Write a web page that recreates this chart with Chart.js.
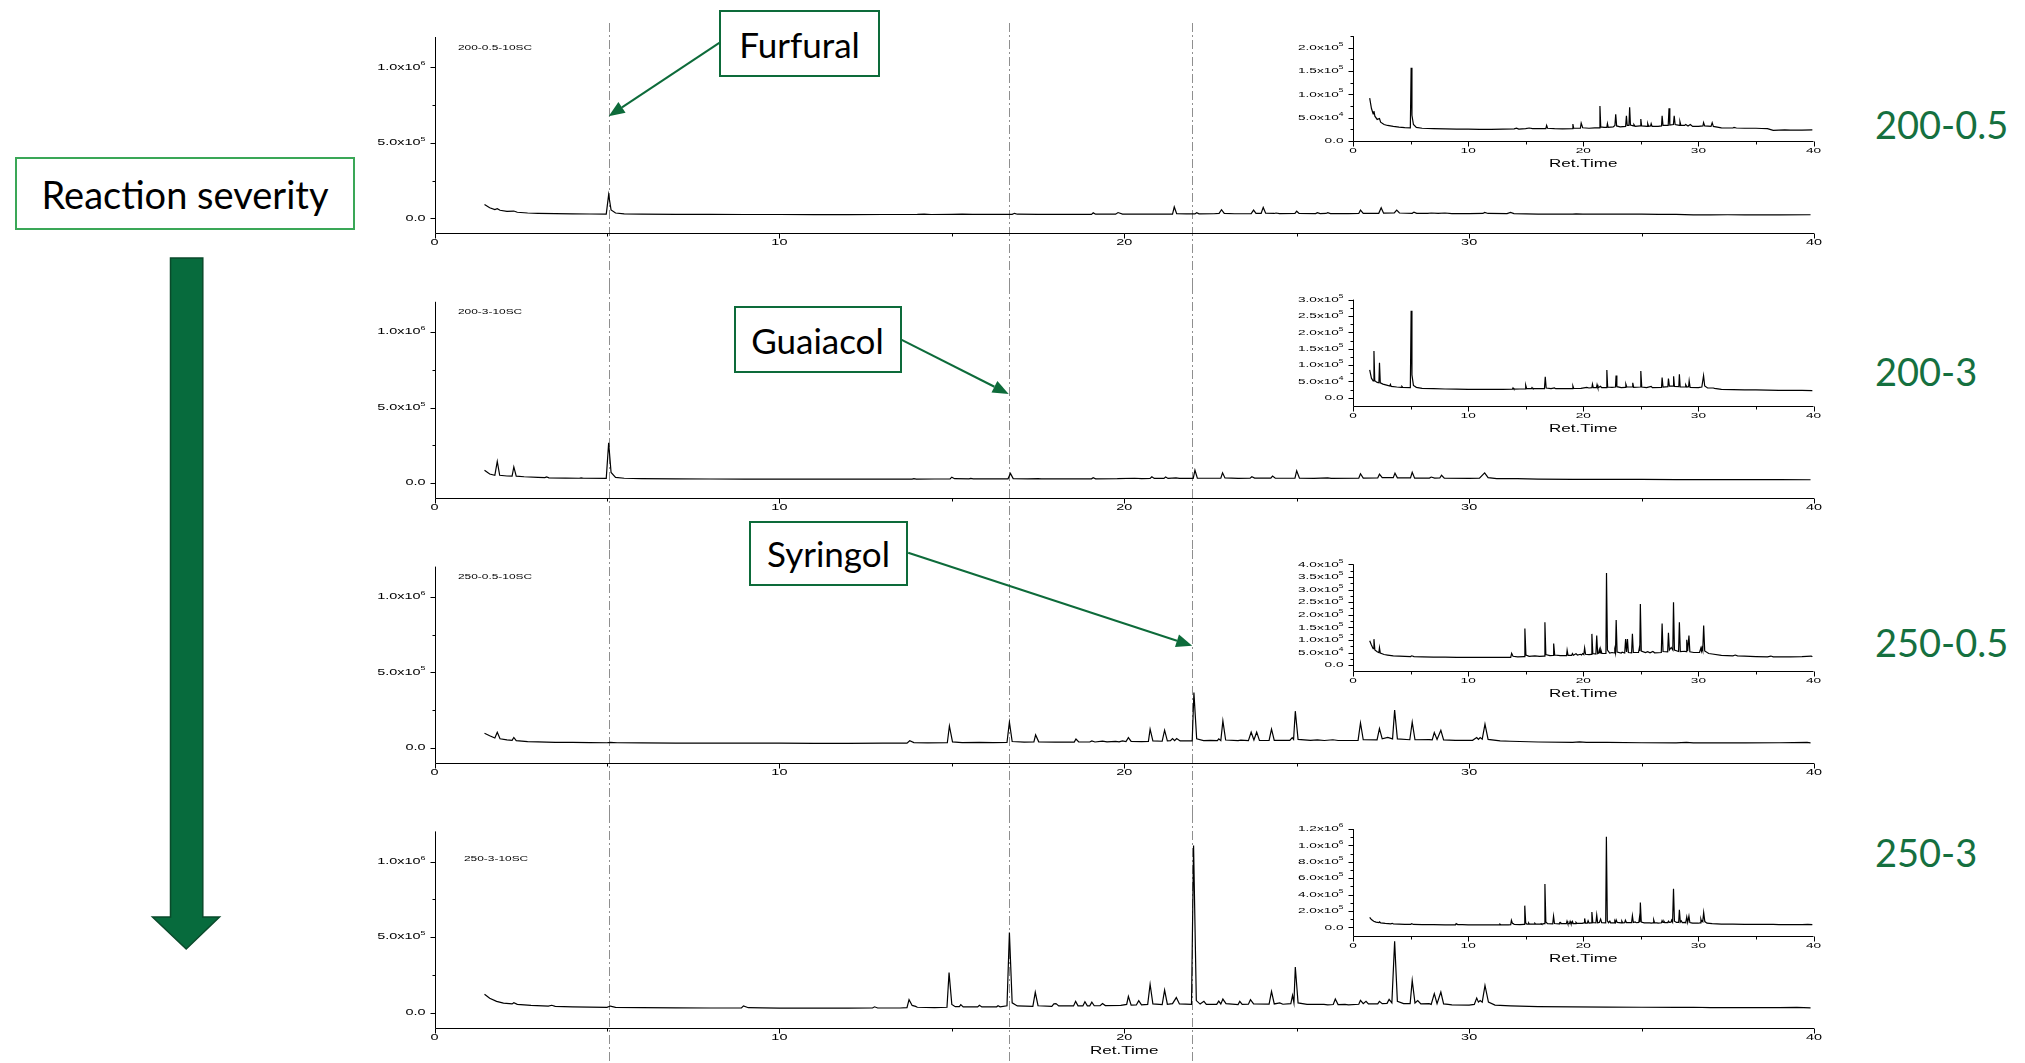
<!DOCTYPE html>
<html>
<head>
<meta charset="utf-8">
<script src="https://cdn.jsdelivr.net/npm/chart.js@4.4.1/dist/chart.umd.min.js"></script>
<style>
  body { margin: 0; background: #fff; }
  #fig { position: relative; width: 2025px; height: 1063px; overflow: hidden; background: #fff; font-family: Lato, "Open Sans", sans-serif; }
  #fig canvas { position: absolute; }
  .cond { position: absolute; color: #15703f; font-size: 38px; line-height: 38px; transform: translateY(-50%); white-space: nowrap; }
  .box { position: absolute; box-sizing: border-box; background: #fff; display: flex; align-items: center; justify-content: center; color: #000; white-space: nowrap; }
  .callout { border: 2px solid #0d6b3a; font-size: 35px; }
  #severity { border: 2px solid #3aa757; font-size: 38px; }
</style>
</head>
<body>
<div id="fig">
  <svg width="400" height="1063" style="position:absolute;left:0;top:0">
    <polygon points="170.5,258 202.8,258 202.8,917 219.5,917 186.2,949 152.5,917 170.5,917"
             fill="#076b3d" stroke="#0a4a2b" stroke-width="1.5"/>
  </svg>
  <div id="severity" class="box" style="left:15px;top:157px;width:340px;height:73px">Reaction severity</div>
</div>

<script>
// retention time (min) vs. intensity, intensities in units of 1e4 counts
const trace200_05 = [
  [1.45, 9.2], [1.6, 7.0], [1.75, 5.8], [1.82, 6.4], [1.9, 5.3], [2.1, 4.6], [2.3, 4.8], [2.4, 4.0],
  [2.7, 3.5], [3.0, 3.3], [3.5, 3.1], [4.0, 2.95], [4.5, 2.85], [4.98, 2.8], [5.05, 15.7], [5.12, 5.5],
  [5.25, 3.5], [5.5, 2.9], [6.0, 2.7], [7.0, 2.6], [8.0, 2.55], [9.0, 2.5], [10.0, 2.5], [11.0, 2.45],
  [12.0, 2.45], [13.0, 2.5], [14.0, 2.55], [14.2, 2.7], [14.4, 2.5], [15.0, 2.6], [15.3, 2.75], [15.6, 2.6],
  [16.0, 2.6], [16.75, 2.6], [16.82, 3.3], [16.9, 2.7], [17.5, 2.6], [18.2, 2.55], [19.05, 2.6], [19.1, 3.6],
  [19.17, 2.7], [19.75, 2.7], [19.82, 3.8], [19.95, 2.8], [20.5, 2.7], [21.0, 2.8], [21.4, 2.8], [21.45, 7.5],
  [21.52, 3.0], [21.8, 2.9], [22.05, 2.9], [22.1, 3.7], [22.17, 2.9], [22.6, 3.0], [22.75, 3.3], [22.82, 5.7],
  [22.9, 3.2], [23.2, 3.0], [23.68, 3.1], [23.75, 5.4], [23.82, 3.3], [23.97, 3.3], [24.03, 7.2], [24.1, 3.4],
  [24.35, 3.2], [24.4, 3.5], [24.5, 3.1], [24.95, 3.2], [25.0, 4.7], [25.07, 3.2], [25.55, 3.1], [25.6, 3.7],
  [25.68, 3.1], [25.85, 3.2], [25.9, 3.7], [25.98, 3.1], [26.5, 3.1], [26.8, 3.2], [26.85, 5.4], [26.93, 3.3],
  [27.38, 3.3], [27.45, 7.0], [27.52, 3.4], [27.83, 3.5], [27.9, 5.4], [27.98, 3.5], [28.35, 3.3], [28.4, 4.1],
  [28.48, 3.3], [28.8, 3.3], [28.9, 3.5], [29.1, 3.2], [29.3, 3.5], [29.5, 3.1], [30.0, 3.1], [30.4, 3.2],
  [30.45, 3.9], [30.55, 3.2], [31.1, 3.1], [31.2, 3.9], [31.3, 3.1], [32.0, 2.8], [33.0, 2.75], [33.1, 2.9],
  [33.3, 2.75], [34.0, 2.7], [35.0, 2.7], [35.5, 2.65], [36.0, 2.6], [36.5, 2.25], [37.0, 2.3], [37.5, 2.35],
  [38.0, 2.3], [39.0, 2.3], [39.9, 2.35]
];
const trace200_3 = [
  [1.45, 8.5], [1.6, 6.0], [1.75, 5.2], [1.82, 14.3], [1.89, 5.2], [2.1, 4.7], [2.25, 4.6], [2.3, 10.7],
  [2.37, 4.6], [2.6, 4.2], [3.0, 3.8], [3.2, 3.6], [3.25, 4.1], [3.32, 3.5], [3.8, 3.3], [4.2, 3.2],
  [4.25, 3.5], [4.32, 3.2], [4.98, 3.1], [5.05, 26.6], [5.12, 7.0], [5.25, 3.8], [5.5, 3.2], [6.0, 2.9],
  [7.0, 2.8], [8.0, 2.7], [9.0, 2.65], [10.0, 2.6], [11.0, 2.6], [12.0, 2.6], [13.0, 2.6], [13.85, 2.65],
  [13.9, 3.0], [13.97, 2.65], [14.5, 2.7], [14.95, 2.75], [15.0, 3.9], [15.08, 2.9], [15.5, 2.8], [15.55, 3.1],
  [15.62, 2.8], [16.2, 2.8], [16.63, 2.8], [16.7, 6.4], [16.78, 3.0], [17.2, 2.8], [17.5, 3.0], [17.6, 2.8],
  [18.3, 2.8], [19.05, 2.8], [19.1, 3.6], [19.17, 2.85], [19.8, 2.9], [20.3, 3.2], [20.5, 3.0], [20.75, 3.1],
  [20.8, 4.2], [20.87, 3.1], [21.15, 3.1], [21.2, 4.0], [21.27, 3.1], [21.5, 3.5], [21.6, 3.1], [22.0, 3.1],
  [22.05, 8.5], [22.12, 3.3], [22.5, 3.2], [22.8, 3.3], [22.85, 6.8], [22.92, 3.4], [23.3, 3.1], [23.65, 3.2],
  [23.7, 4.2], [23.78, 3.3], [24.25, 3.3], [24.3, 4.6], [24.38, 3.2], [24.95, 3.3], [25.0, 8.2], [25.08, 3.3],
  [25.5, 3.1], [25.9, 3.5], [26.0, 3.1], [26.8, 3.2], [26.85, 6.2], [26.93, 3.3], [27.35, 3.4], [27.4, 5.9],
  [27.48, 3.6], [27.8, 3.6], [27.85, 6.6], [27.92, 3.5], [28.3, 3.4], [28.35, 7.2], [28.42, 3.3], [28.85, 3.3],
  [28.9, 4.0], [29.0, 3.3], [29.15, 3.4], [29.2, 5.2], [29.28, 3.2], [30.0, 3.1], [30.3, 3.3], [30.45, 6.8],
  [30.55, 3.6], [30.8, 3.0], [31.3, 3.0], [31.4, 2.9], [32.0, 2.6], [33.0, 2.5], [34.0, 2.4], [35.0, 2.4],
  [36.0, 2.35], [37.0, 2.3], [38.0, 2.3], [39.0, 2.25], [39.9, 2.2]
];
const trace250_05 = [
  [1.45, 9.7], [1.6, 8.0], [1.75, 6.5], [1.82, 10.3], [1.9, 6.0], [2.1, 5.3], [2.25, 5.0], [2.3, 6.9],
  [2.37, 4.8], [2.7, 4.2], [3.0, 4.0], [3.5, 3.7], [4.0, 3.6], [4.5, 3.5], [5.0, 3.4], [5.1, 3.7],
  [5.3, 3.4], [6.0, 3.3], [7.0, 3.2], [8.0, 3.15], [9.0, 3.1], [10.0, 3.1], [11.0, 3.05], [12.0, 3.05],
  [13.0, 3.1], [13.7, 3.1], [13.78, 4.7], [13.9, 3.5], [14.3, 3.3], [14.87, 3.4], [14.93, 14.5], [15.02, 4.0],
  [15.3, 3.5], [15.8, 3.7], [16.2, 3.5], [16.6, 3.6], [16.67, 17.0], [16.75, 4.2], [17.1, 3.8], [17.38, 3.9],
  [17.43, 8.6], [17.52, 4.0], [18.0, 3.8], [18.55, 3.8], [18.6, 5.9], [18.68, 3.9], [19.0, 3.9], [19.06, 4.6],
  [19.15, 3.9], [19.37, 4.5], [19.5, 4.0], [19.75, 4.3], [19.85, 4.0], [19.95, 4.6], [20.05, 4.2], [20.12, 6.8],
  [20.2, 4.3], [20.5, 4.2], [20.7, 4.3], [20.75, 12.4], [20.83, 4.6], [21.1, 4.4], [21.17, 11.7], [21.25, 4.6],
  [21.34, 4.8], [21.4, 6.2], [21.46, 4.8], [21.52, 6.2], [21.62, 4.6], [21.97, 4.6], [22.02, 36.6], [22.1, 6.0],
  [22.3, 4.8], [22.5, 5.0], [22.7, 4.8], [22.74, 6.0], [22.8, 4.8], [22.86, 17.9], [22.94, 5.2], [23.3, 4.8],
  [23.38, 5.1], [23.6, 4.8], [23.68, 10.4], [23.76, 5.2], [23.84, 10.4], [23.92, 5.0], [24.2, 4.9], [24.27, 12.4],
  [24.35, 5.0], [24.8, 5.0], [24.87, 6.8], [24.91, 5.6], [24.96, 24.3], [25.04, 5.6], [25.4, 5.0], [25.6, 5.3],
  [25.8, 4.9], [26.05, 5.4], [26.2, 4.9], [26.78, 5.0], [26.85, 16.5], [26.93, 5.4], [27.33, 5.3], [27.4, 12.8],
  [27.48, 6.0], [27.64, 7.0], [27.78, 6.0], [27.84, 25.0], [27.92, 6.0], [28.28, 5.4], [28.35, 17.0], [28.43, 5.4],
  [28.84, 5.5], [28.93, 5.3], [28.99, 10.1], [29.07, 5.6], [29.18, 11.7], [29.26, 5.3], [29.6, 5.0], [30.1, 5.0],
  [30.22, 6.8], [30.27, 5.6], [30.32, 6.8], [30.38, 5.8], [30.46, 15.7], [30.55, 5.6], [30.9, 4.6], [31.2, 4.4],
  [32.0, 3.9], [33.0, 3.7], [33.2, 4.0], [33.4, 3.7], [34.0, 3.6], [35.0, 3.4], [36.0, 3.3], [36.3, 3.6],
  [36.5, 3.3], [37.0, 3.3], [38.0, 3.3], [39.0, 3.4], [39.8, 3.6], [39.9, 3.3]
];
const trace250_3 = [
  [1.45, 12.2], [1.6, 9.5], [1.8, 7.5], [2.0, 6.3], [2.25, 5.8], [2.3, 6.6], [2.4, 5.5], [2.8, 4.8],
  [3.3, 4.3], [3.4, 4.9], [3.5, 4.2], [4.0, 3.9], [4.5, 3.7], [5.0, 3.5], [5.1, 4.4], [5.25, 3.5],
  [6.0, 3.3], [7.0, 3.2], [8.0, 3.1], [8.9, 3.1], [8.96, 4.5], [9.1, 3.3], [9.5, 3.2], [10.0, 3.0],
  [11.0, 3.0], [12.0, 3.0], [12.7, 3.1], [12.76, 3.9], [12.85, 3.1], [13.5, 3.1], [13.7, 3.3], [13.76, 8.6],
  [13.85, 4.8], [13.95, 4.2], [14.0, 3.6], [14.5, 3.4], [14.86, 3.6], [14.92, 26.5], [15.0, 5.5], [15.1, 4.0],
  [15.22, 4.0], [15.26, 5.3], [15.33, 3.8], [15.75, 3.8], [15.8, 4.9], [15.87, 3.8], [16.3, 3.9], [16.34, 4.6],
  [16.4, 3.9], [16.6, 4.6], [16.67, 53.0], [16.75, 6.5], [16.9, 4.5], [17.35, 4.2], [17.42, 13.5], [17.5, 4.6],
  [17.9, 4.2], [17.96, 5.8], [18.02, 6.0], [18.1, 4.5], [18.53, 4.5], [18.59, 7.5], [18.66, 4.5], [18.8, 4.5],
  [18.86, 7.3], [18.93, 4.5], [19.0, 4.5], [19.06, 7.0], [19.13, 4.6], [19.3, 4.6], [19.37, 6.0], [19.45, 4.7],
  [19.9, 4.8], [20.07, 5.5], [20.12, 10.8], [20.2, 5.0], [20.35, 5.1], [20.42, 8.0], [20.5, 5.2], [20.68, 5.5],
  [20.75, 18.8], [20.83, 5.8], [21.1, 5.4], [21.17, 15.0], [21.25, 5.6], [21.4, 6.0], [21.51, 10.0], [21.6, 5.8],
  [21.95, 5.5], [22.01, 110.7], [22.09, 8.0], [22.2, 5.7], [22.31, 7.5], [22.38, 5.5], [22.68, 5.5], [22.74, 7.7],
  [22.8, 5.8], [22.86, 9.0], [22.95, 6.0], [23.3, 5.4], [23.35, 7.5], [23.42, 5.5], [23.6, 5.6], [23.66, 8.6],
  [23.75, 5.8], [24.2, 5.7], [24.27, 14.1], [24.35, 5.8], [24.51, 6.5], [24.6, 5.6], [24.83, 6.0], [24.88, 11.5],
  [24.92, 6.5], [24.96, 30.2], [25.04, 6.5], [25.3, 5.5], [25.79, 5.5], [25.9, 5.2], [26.06, 5.4], [26.12, 9.0],
  [26.2, 5.4], [26.4, 5.5], [26.5, 5.2], [26.8, 5.6], [26.85, 8.2], [26.93, 6.0], [27.01, 7.5], [27.08, 5.8],
  [27.35, 5.8], [27.4, 7.5], [27.48, 6.0], [27.62, 6.2], [27.68, 8.8], [27.76, 6.5], [27.84, 47.2], [27.92, 7.5],
  [28.1, 6.0], [28.29, 6.0], [28.35, 21.4], [28.43, 6.4], [28.51, 8.0], [28.6, 5.8], [28.84, 6.0], [28.9, 5.5],
  [28.99, 12.6], [29.07, 6.0], [29.18, 13.7], [29.26, 5.8], [29.39, 5.5], [29.5, 5.2], [30.0, 5.0], [30.15, 5.5],
  [30.22, 9.7], [30.27, 7.0], [30.32, 8.0], [30.38, 7.0], [30.46, 18.0], [30.56, 7.0], [30.75, 5.0], [31.2, 4.5],
  [32.0, 4.0], [33.0, 3.8], [34.0, 3.7], [35.0, 3.6], [36.0, 3.5], [36.5, 3.6], [37.0, 3.4], [38.0, 3.3],
  [39.0, 3.3], [39.5, 3.5], [39.9, 3.2]
];

const sampleTags = ['200-0.5-10SC', '200-3-10SC', '250-0.5-10SC', '250-3-10SC'];
const conditions = ['200-0.5', '200-3', '250-0.5', '250-3'];
const compounds = ['Furfural', 'Guaiacol', 'Syringol'];
const compoundTimes = [5.05, 16.65, 21.97];

// axis ticks
const timeMajor = [0, 10, 20, 30, 40];
const timeMinor = [5, 15, 25, 35];
const mainYMajor = [0, 5e5, 1e6];
const mainYMinor = [2.5e5, 7.5e5];
const inset1Major = [0, 5e4, 1e5, 1.5e5, 2e5];
const inset1Minor = [2.5e4, 7.5e4, 1.25e5, 1.75e5, 2.25e5];
const inset2Major = [0, 5e4, 1e5, 1.5e5, 2e5, 2.5e5, 3e5];
const inset2Minor = [2.5e4, 7.5e4, 1.25e5, 1.75e5, 2.25e5, 2.75e5];
const inset3Major = [0, 5e4, 1e5, 1.5e5, 2e5, 2.5e5, 3e5, 3.5e5, 4e5];
const inset3Minor = [2.5e4, 7.5e4, 1.25e5, 1.75e5, 2.25e5, 2.75e5, 3.25e5, 3.75e5];
const inset4Major = [0, 2e5, 4e5, 6e5, 8e5, 1e6, 1.2e6];
const inset4Minor = [1e5, 3e5, 5e5, 7e5, 9e5, 1.1e6];

const FONT = '"Liberation Sans", Arial, sans-serif';
const STRETCH = 1.7;

function sciParts(v) {
  if (v === 0) return ['0.0', ''];
  const e = Math.floor(Math.log10(v) + 1e-9);
  return [(v / Math.pow(10, e)).toFixed(1) + 'x10', String(e)];
}

function wideText(ctx, text, x, y, align) {
  ctx.save();
  ctx.translate(x, y);
  ctx.scale(STRETCH, 1);
  ctx.textAlign = align;
  ctx.fillText(text, 0, 0);
  ctx.restore();
}

// Origin-style axes: outward ticks, stretched labels
const originAxes = {
  id: 'originAxes',
  afterDraw(chart, args, o) {
    const { ctx, chartArea: a } = chart;
    const xs = chart.scales.x, ys = chart.scales.y;
    const L = Math.round(a.left) + 0.5, B = Math.round(a.bottom) + 0.5;
    ctx.save();
    ctx.strokeStyle = '#000';
    ctx.fillStyle = '#000';
    ctx.lineWidth = 1;
    ctx.beginPath();
    ctx.moveTo(L, a.top);
    ctx.lineTo(L, B);
    ctx.lineTo(a.right, B);
    timeMajor.forEach(v => { const p = Math.round(xs.getPixelForValue(v)) + 0.5; ctx.moveTo(p, B); ctx.lineTo(p, B + 5); });
    timeMinor.forEach(v => { const p = Math.round(xs.getPixelForValue(v)) + 0.5; ctx.moveTo(p, B); ctx.lineTo(p, B + 3); });
    o.yMajor.forEach(v => { const p = Math.round(ys.getPixelForValue(v)) + 0.5; ctx.moveTo(L, p); ctx.lineTo(L - 5, p); });
    o.yMinor.forEach(v => { const p = Math.round(ys.getPixelForValue(v)) + 0.5; ctx.moveTo(L, p); ctx.lineTo(L - 3, p); });
    ctx.stroke();

    ctx.textBaseline = 'middle';
    ctx.font = o.fs + 'px ' + FONT;
    timeMajor.forEach(v => wideText(ctx, String(v), xs.getPixelForValue(v), B + 9, 'center'));
    o.yMajor.forEach(v => {
      const [m, e] = sciParts(v);
      const py = ys.getPixelForValue(v);
      ctx.font = o.fs + 'px ' + FONT;
      const wm = ctx.measureText(m).width;
      ctx.font = (o.fs * 0.62) + 'px ' + FONT;
      const we = e ? ctx.measureText(e).width : 0;
      const x0 = L - 10 - (wm + we) * STRETCH;
      ctx.font = o.fs + 'px ' + FONT;
      wideText(ctx, m, x0, py, 'left');
      if (e) {
        ctx.font = (o.fs * 0.62) + 'px ' + FONT;
        wideText(ctx, e, x0 + wm * STRETCH, py - o.fs * 0.4, 'left');
      }
    });
    if (o.title) {
      ctx.font = '10px ' + FONT;
      wideText(ctx, o.title, (a.left + a.right) / 2, B + 22.5, 'center');
    }
    if (o.tag) {
      ctx.font = '7px ' + FONT;
      wideText(ctx, o.tag, a.left + o.tagAt[0], a.top + o.tagAt[1], 'left');
    }
    ctx.restore();
  }
};

// dash-dot guide lines at the compound retention times, running through all panels
const guideLines = {
  id: 'guideLines',
  beforeDatasetsDraw(chart, args, o) {
    if (!o.at) return;
    const { ctx } = chart;
    const xs = chart.scales.x;
    ctx.save();
    ctx.strokeStyle = '#8f8f8f';
    ctx.lineWidth = 1;
    ctx.setLineDash([9, 3, 2, 3]);
    o.at.forEach(v => {
      const p = Math.round(xs.getPixelForValue(v)) + 0.5;
      ctx.beginPath();
      ctx.moveTo(p, o.from);
      ctx.lineTo(p, chart.height);
      ctx.stroke();
    });
    ctx.restore();
  }
};

// green arrow from a label box to a peak
const pointer = {
  id: 'pointer',
  afterDraw(chart, args, o) {
    if (!o.tip) return;
    const { ctx } = chart;
    const px = chart.scales.x.getPixelForValue(o.tip[0]);
    const py = chart.scales.y.getPixelForValue(o.tip[1]);
    const qx = px + o.tail[0], qy = py + o.tail[1];
    const ang = Math.atan2(py - qy, px - qx);
    const hl = 16, hw = 6.5;
    const bx = px - hl * Math.cos(ang), by = py - hl * Math.sin(ang);
    ctx.save();
    ctx.strokeStyle = '#0d6b3a';
    ctx.fillStyle = '#0d6b3a';
    ctx.lineWidth = 2;
    ctx.beginPath();
    ctx.moveTo(qx, qy);
    ctx.lineTo(bx, by);
    ctx.stroke();
    ctx.beginPath();
    ctx.moveTo(px, py);
    ctx.lineTo(bx + hw * Math.sin(ang), by - hw * Math.cos(ang));
    ctx.lineTo(bx - hw * Math.sin(ang), by + hw * Math.cos(ang));
    ctx.closePath();
    ctx.fill();
    ctx.restore();
  }
};

const fig = document.getElementById('fig');

function chromatogram(p) {
  const cv = document.createElement('canvas');
  cv.width = p.width;
  cv.height = p.height;
  cv.style.left = p.left + 'px';
  cv.style.top = p.top + 'px';
  fig.appendChild(cv);
  return new Chart(cv, {
    type: 'scatter',
    data: {
      datasets: [{
        data: p.trace.map(([t, v]) => ({ x: t, y: v * 1e4 })),
        showLine: true,
        borderColor: '#000',
        borderWidth: 1.2,
        pointRadius: 0,
        tension: 0
      }]
    },
    options: {
      responsive: false,
      animation: false,
      events: [],
      layout: {
        autoPadding: false,
        padding: { left: 0, top: p.area.top - p.top, right: p.left + p.width - p.area.right, bottom: 0 }
      },
      scales: {
        x: {
          type: 'linear', min: 0, max: 40,
          ticks: { display: false }, grid: { display: false }, border: { display: false },
          afterFit: s => { s.height = p.top + p.height - p.area.bottom; }
        },
        y: {
          type: 'linear', min: p.yRange[0], max: p.yRange[1],
          ticks: { display: false }, grid: { display: false }, border: { display: false },
          afterFit: s => { s.width = p.area.left - p.left; }
        }
      },
      plugins: {
        legend: { display: false },
        tooltip: { enabled: false },
        originAxes: p.axes,
        guideLines: p.guides || {},
        pointer: p.pointer || {}
      }
    },
    plugins: [guideLines, originAxes, pointer]
  });
}

// main panels
const traces = [trace200_05, trace200_3, trace250_05, trace250_3];
const tagOffsets = [[23.5, 11.5], [23.5, 10.7], [23.5, 10.4], [29.5, 28]];
const pointers = [
  { tip: [compoundTimes[0], 6.76e5], tail: [111, -73.6] },
  { tip: [compoundTimes[1], 5.9e5], tail: [-107, -54] },
  { tip: [compoundTimes[2], 6.76e5], tail: [-284, -93] },
  null
];
traces.forEach((trace, k) => {
  const top = Math.round(20 + 264.8 * k);
  const height = k < 3 ? Math.round(20 + 264.8 * (k + 1)) - top : 1063 - top;
  chromatogram({
    left: 330, top, width: 1510, height,
    area: { left: 434.5, right: 1814, top: 37 + 264.8 * k, bottom: 233.4 + 264.8 * k },
    yRange: [-1e5, 1.2e6],
    trace,
    axes: { yMajor: mainYMajor, yMinor: mainYMinor, fs: 8.5, title: k === 3 ? 'Ret.Time' : null,
            tag: sampleTags[k], tagAt: tagOffsets[k] },
    guides: { at: compoundTimes, from: k === 0 ? 3 : 0 },
    pointer: pointers[k]
  });
});

// insets, same traces on their own intensity scale
const insets = [
  { top: 36.2, bottom: 140.8, yRange: [0, 2.25e5], yMajor: inset1Major, yMinor: inset1Minor },
  { top: 299.6, bottom: 406, yRange: [-2.5e4, 3e5], yMajor: inset2Major, yMinor: inset2Minor },
  { top: 564.4, bottom: 671.4, yRange: [-2.5e4, 4e5], yMajor: inset3Major, yMinor: inset3Minor },
  { top: 829.1, bottom: 935.5, yRange: [-1e5, 1.2e6], yMajor: inset4Major, yMinor: inset4Minor }
];
insets.forEach((ins, k) => {
  const top = Math.round(ins.top - 10);
  chromatogram({
    left: 1240, top, width: 600, height: Math.round(ins.bottom + 32) - top,
    area: { left: 1353, right: 1813.5, top: ins.top, bottom: ins.bottom },
    yRange: ins.yRange,
    trace: traces[k],
    axes: { yMajor: ins.yMajor, yMinor: ins.yMinor, fs: 8, title: 'Ret.Time' }
  });
});

// label boxes and condition names
const calloutBoxes = [[719, 10, 161, 67], [733.5, 306, 168, 67], [749, 520.5, 159, 65.5]];
compounds.forEach((name, i) => {
  const [l, t, w, h] = calloutBoxes[i];
  const d = document.createElement('div');
  d.className = 'box callout';
  d.style.cssText = `left:${l}px;top:${t}px;width:${w}px;height:${h}px`;
  d.textContent = name;
  fig.appendChild(d);
});
const conditionY = [124, 371, 642, 852];
conditions.forEach((c, i) => {
  const d = document.createElement('div');
  d.className = 'cond';
  d.style.left = '1875px';
  d.style.top = conditionY[i] + 'px';
  d.textContent = c;
  fig.appendChild(d);
});
</script>
</body>
</html>
